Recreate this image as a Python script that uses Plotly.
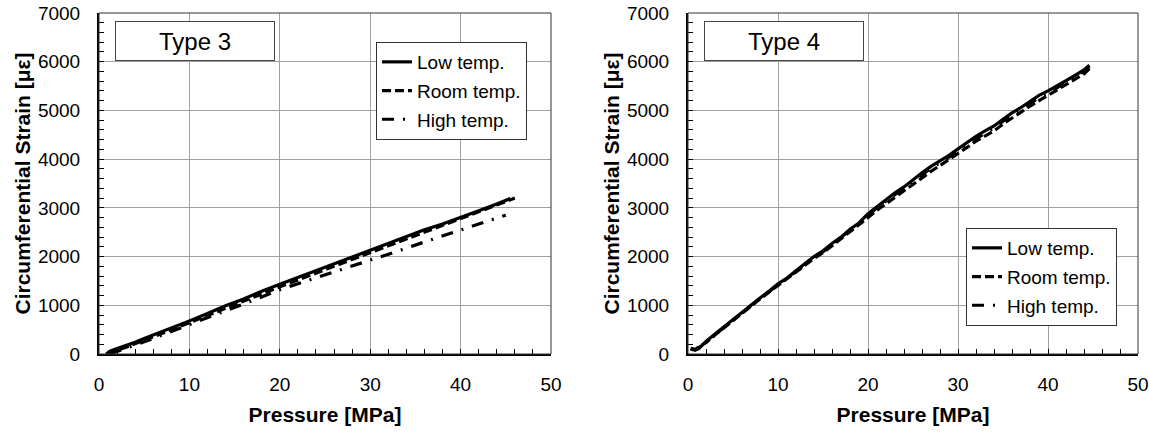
import plotly.graph_objects as go

# ---------------- data ----------------
# Type 3
t3_low_p = [0.8, 1.2, 2, 3, 4, 5, 6, 7, 8, 9, 10, 12, 14, 16, 18, 20, 22, 24, 26, 28, 30, 32, 34, 36, 38, 40, 42, 44, 45.5]
t3_low_s = [0, 60, 110, 170, 240, 320, 390, 460, 530, 600, 680, 830, 990, 1130, 1290, 1430, 1570, 1710, 1850, 1990, 2130, 2270, 2410, 2550, 2670, 2800, 2940, 3080, 3190]
t3_room_p = [1.0, 1.5, 2, 3, 4, 5, 6, 7, 8, 9, 10, 12, 14, 16, 18, 20, 22, 24, 26, 28, 30, 32, 34, 36, 38, 40, 42, 44, 46]
t3_room_s = [0, 40, 80, 140, 210, 290, 360, 430, 500, 570, 640, 790, 940, 1090, 1240, 1380, 1520, 1660, 1800, 1940, 2080, 2220, 2360, 2500, 2640, 2780, 2920, 3060, 3200]
t3_high_p = [1.2, 2, 3, 4, 5, 6, 7, 8, 9, 10, 12, 14, 16, 18, 20, 22, 24, 26, 28, 30, 32, 34, 36, 38, 40, 42, 44, 45]
t3_high_s = [0, 50, 110, 180, 250, 320, 390, 460, 530, 610, 750, 890, 1030, 1170, 1320, 1440, 1560, 1690, 1810, 1930, 2050, 2170, 2300, 2420, 2550, 2670, 2790, 2850]

# Type 4
t4_p = [0.3, 0.8, 1.2, 2, 3, 4, 5, 6, 7, 8, 9, 10, 11, 12, 13, 14, 15, 16, 17, 18, 19, 20, 21, 22, 23,
        24, 25, 26, 27, 28, 29, 30, 31, 32, 33, 34, 35, 36, 37, 38, 39, 40, 41, 42, 43, 44, 44.6]
t4_low_s = [100, 80, 110, 260, 410, 560, 720, 860, 1010, 1150, 1290, 1440, 1560, 1720, 1860, 2000, 2120, 2270,
            2400, 2560, 2690, 2880, 3030, 3180, 3310, 3430, 3580, 3720, 3850, 3960, 4080, 4210, 4350, 4470,
            4580, 4680, 4820, 4950, 5060, 5190, 5310, 5400, 5500, 5610, 5720, 5830, 5930]
t4_room_s = [120, 90, 150, 230, 390, 540, 700, 840, 990, 1130, 1270, 1410, 1530, 1690, 1830, 1960, 2080, 2220,
             2360, 2510, 2640, 2800, 2950, 3090, 3220, 3350, 3480, 3620, 3750, 3870, 3990, 4110, 4240, 4370,
             4480, 4580, 4720, 4850, 4960, 5090, 5200, 5310, 5410, 5520, 5630, 5750, 5860]
t4_high_s = [110, 85, 130, 250, 400, 550, 710, 850, 1000, 1140, 1280, 1430, 1550, 1700, 1850, 1980, 2100, 2250,
             2380, 2540, 2670, 2850, 3000, 3140, 3270, 3400, 3540, 3680, 3810, 3920, 4040, 4170, 4300, 4420,
             4530, 4640, 4780, 4910, 5020, 5150, 5260, 5360, 5460, 5570, 5680, 5800, 5900]

series_names = ["Low temp.", "Room temp.", "High temp."]
panel_labels = ["Type 3", "Type 4"]
x_title = "Pressure [MPa]"
y_title = "Circumferential Strain [με]"
x_ticks = [0, 10, 20, 30, 40, 50]
y_ticks = [0, 1000, 2000, 3000, 4000, 5000, 6000, 7000]

# ---------------- style ----------------
dashes = ["solid", "9px,4px", "12px,9px,2px,9px"]
LW = 3.2
TICK_FONT = dict(family="Liberation Sans, Arial", size=19, color="black")
TITLE_FONT = dict(family="Liberation Sans, Arial", size=21, color="black")

fig = go.Figure()

panels = [
    ("x", "y", "legend", [(t3_low_p, t3_low_s), (t3_room_p, t3_room_s), (t3_high_p, t3_high_s)]),
    ("x2", "y2", "legend2", [(t4_p, t4_low_s), (t4_p, t4_room_s), (t4_p, t4_high_s)]),
]
for xa, ya, lg, data in panels:
    for i, (px, sy) in enumerate(data):
        fig.add_trace(go.Scatter(
            x=px, y=sy, mode="lines", name=series_names[i],
            line=dict(color="black", width=LW, dash=dashes[i]),
            xaxis=xa, yaxis=ya, legend=lg, legendgroup=f"{lg}{i}",
        ))

W, H = 1149, 434
xdoms = [[99 / W, 551 / W], [688 / W, 1138 / W]]
ydom = [1 - 354 / H, 1 - 13 / H]

def xaxis_cfg(dom, anchor):
    return dict(
        domain=dom, anchor=anchor, range=[0, 50], tickvals=x_ticks, automargin=False,
        showgrid=True, gridcolor="#a0a0a0", gridwidth=1,
        showline=True, linecolor="black", linewidth=2,
        ticks="inside", ticklen=5, tickcolor="black", tickwidth=1,
        minor=dict(dtick=2, ticks="inside", ticklen=5, tickcolor="black", showgrid=False),
        tickfont=TICK_FONT, ticklabelstandoff=12, zeroline=False,
        title=dict(text=f"<b>{x_title}</b>", font=TITLE_FONT, standoff=14),
    )

def yaxis_cfg(anchor):
    return dict(
        domain=ydom, anchor=anchor, range=[0, 7000], tickvals=y_ticks, automargin=False,
        showgrid=True, gridcolor="#a0a0a0", gridwidth=1,
        showline=True, linecolor="black", linewidth=2,
        ticks="inside", ticklen=5, tickcolor="black", tickwidth=1,
        minor=dict(dtick=200, ticks="inside", ticklen=5, tickcolor="black", showgrid=False),
        tickfont=TICK_FONT, ticklabelstandoff=13, zeroline=False,
    )

legend_common = dict(
    bgcolor="white", bordercolor="#333333", borderwidth=1,
    font=dict(family="Liberation Sans, Arial", size=19, color="black"),
    xanchor="left", yanchor="top", tracegroupgap=1, itemwidth=30,
)

fig.update_layout(
    width=W, height=H,
    margin=dict(l=0, r=0, t=0, b=0, autoexpand=False),
    paper_bgcolor="white", plot_bgcolor="white",
    showlegend=True,
    xaxis=xaxis_cfg(xdoms[0], "y"),
    yaxis=yaxis_cfg("x"),
    xaxis2=xaxis_cfg(xdoms[1], "y2"),
    yaxis2=yaxis_cfg("x2"),
    legend=dict(x=376 / W, y=1 - 42 / H, **legend_common),
    legend2=dict(x=966 / W, y=1 - 228 / H, **legend_common),
)

# y-axis titles
for xpix in (22, 611):
    fig.add_annotation(
        xref="paper", yref="paper", x=xpix / W, y=(ydom[0] + ydom[1]) / 2,
        xanchor="center", yanchor="middle", textangle=-90, showarrow=False,
        text=f"<b>{y_title}</b>", font=TITLE_FONT,
    )

# top/right frame
for xr, yr in [("x domain", "y domain"), ("x2 domain", "y2 domain")]:
    fig.add_shape(type="rect", xref=xr, yref=yr, x0=0, x1=1, y0=0, y1=1,
                  line=dict(color="#333333", width=1), layer="above")

# panel labels
for (xr, yr), lab in zip([("x domain", "y domain"), ("x2 domain", "y2 domain")], panel_labels):
    fig.add_annotation(
        xref=xr, yref=yr, x=0.036, y=0.977, xanchor="left", yanchor="top",
        text=lab, showarrow=False, width=158, height=38,
        font=dict(family="Liberation Sans, Arial", size=24, color="black"),
        bordercolor="#444444", borderwidth=1, borderpad=0, bgcolor="white",
    )

fig.write_html("out.html", config={"displayModeBar": False},
               post_script="document.body.style.margin='0px';")
